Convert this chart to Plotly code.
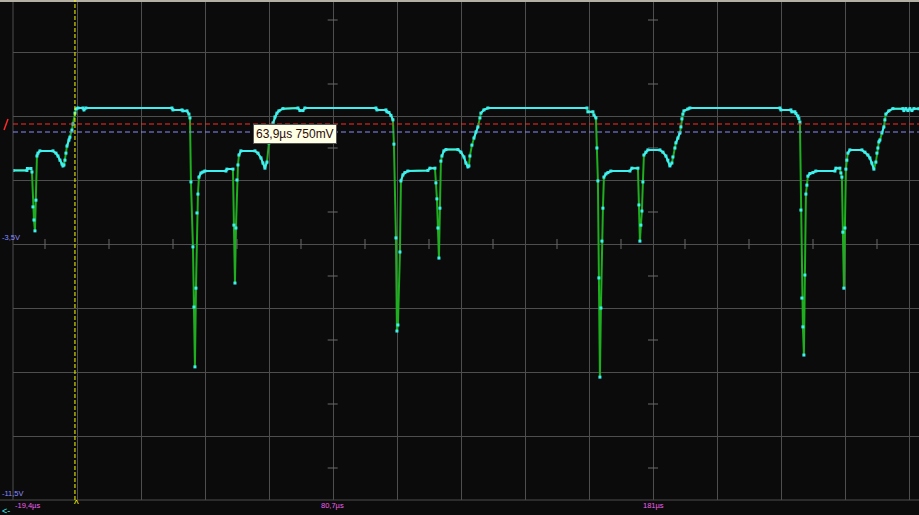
import plotly.graph_objects as go

# captured trace: time in µs, level in V
t_us = [
    -19.4, -15.03, -14.9, -13.78, -13.46, -13.15, -12.84, -12.52, -12.21, -11.90,
    -11.58, -10.96, -6.89, -5.95, -5.32, -4.70, -4.07, -3.76, -3.44, -3.13,
    -2.82, -2.50, -1.88, -1.57, -0.94, -0.63, 0.0, 0.31, 0.94, 2.50,
    2.82, 3.44,
    30.37, 30.68, 33.50, 33.81, 35.07, 35.69, 36.01, 36.32, 36.95, 37.26,
    37.57, 37.89, 38.20, 38.51, 38.82, 39.45, 40.08, 40.70, 47.28, 47.59,
    49.47, 49.78, 50.10, 50.41, 50.72, 51.04, 51.35, 51.97, 56.36, 57.30,
    58.24, 58.86, 59.49, 60.12, 60.74, 61.37, 61.99, 62.62, 63.25, 63.87,
    65.12, 69.82, 70.45, 71.39, 72.01,
    94.24, 94.56, 97.37, 97.69, 98.31, 98.94, 99.57, 99.88, 100.51, 100.82,
    101.13, 101.76, 102.07, 102.70, 103.32, 104.26, 110.52, 111.15, 112.72, 113.03,
    113.34, 113.66, 113.97, 114.28, 114.59, 114.91, 115.53, 116.16, 119.92, 120.86,
    121.80, 122.42, 123.05, 123.36, 123.67, 124.30, 124.93, 125.55, 126.18, 126.81,
    127.12, 128.06, 129.31,
    160.31, 160.62, 162.19, 162.50, 163.13, 163.44, 163.75, 164.06, 164.38, 164.69,
    165.00, 165.32, 165.63, 166.26, 166.88, 167.82, 173.77, 174.40, 176.28, 176.59,
    176.90, 177.21, 177.53, 177.84, 178.15, 178.78, 179.41, 183.16, 184.10, 185.04,
    185.67, 186.29, 186.92, 187.23, 187.86, 188.17, 188.80, 189.43, 189.74, 190.05,
    190.36, 190.68, 191.93, 192.56,
    220.74, 221.05, 224.18, 224.49, 225.43, 225.75, 226.37, 226.68, 227.00, 227.31,
    227.62, 227.94, 228.25, 228.56, 228.88, 229.19, 229.50, 230.13, 231.07, 232.01,
    237.96, 238.27, 239.52, 239.83, 240.15, 240.46, 240.77, 241.09, 241.40, 241.71,
    242.03, 242.65, 246.41, 247.35, 248.29, 248.91, 249.54, 250.17, 250.79, 251.11,
    251.42, 251.73, 252.05, 252.67, 253.30, 253.61, 253.92, 254.86, 256.12, 259.25,
    259.56, 260.19, 260.81, 261.44, 262.07, 262.69, 264.26,
]
v_volt = [
    -1.20, -1.20, -1.14, -1.14, -1.25, -2.34, -2.75, -3.09, -2.13, -0.75,
    -0.66, -0.59, -0.59, -0.66, -0.75, -0.88, -1.00, -1.06, -1.03, -0.88,
    -0.66, -0.44, -0.25, -0.16, 0.06, 0.25, 0.59, 0.72, 0.75, 0.75,
    0.69, 0.75,
    0.75, 0.69, 0.69, 0.66, 0.66, 0.56, 0.44, -1.56, -3.59, -5.47,
    -7.34, -4.88, -2.53, -1.94, -1.41, -1.28, -1.25, -1.22, -1.22, -1.16,
    -1.16, -2.91, -4.72, -3.00, -1.50, -1.03, -0.72, -0.59, -0.59, -0.66,
    -0.81, -0.97, -1.13, -0.94, -0.34, 0.00, 0.28, 0.47, 0.59, 0.66,
    0.73, 0.75, 0.67, 0.67, 0.75,
    0.75, 0.69, 0.69, 0.63, 0.61, 0.52, 0.38, -0.38, -3.31, -6.22,
    -6.03, -3.75, -1.53, -1.34, -1.27, -1.22, -1.20, -1.13, -1.13, -1.59,
    -2.09, -3.00, -3.94, -2.38, -0.91, -0.75, -0.59, -0.55, -0.55, -0.63,
    -0.78, -0.97, -1.09, -1.06, -0.75, -0.41, -0.19, 0.00, 0.16, 0.44,
    0.59, 0.69, 0.75,
    0.75, 0.63, 0.63, 0.53, 0.44, -0.50, -1.53, -4.56, -7.66, -5.50,
    -3.41, -2.38, -1.41, -1.31, -1.27, -1.22, -1.22, -1.13, -1.13, -2.28,
    -3.41, -2.91, -2.47, -1.56, -0.72, -0.63, -0.56, -0.56, -0.63, -0.75,
    -0.88, -1.06, -0.97, -0.78, -0.50, -0.34, -0.19, -0.03, 0.16, 0.41,
    0.56, 0.66, 0.72, 0.75,
    0.75, 0.69, 0.69, 0.63, 0.63, 0.58, 0.50, 0.42, 0.31, -2.44,
    -5.19, -6.09, -6.97, -4.47, -1.94, -1.66, -1.38, -1.30, -1.27, -1.22,
    -1.22, -1.13, -1.13, -1.28, -1.41, -3.13, -4.88, -3.00, -1.16, -0.88,
    -0.66, -0.56, -0.56, -0.63, -0.72, -0.81, -0.97, -1.16, -0.94, -0.66,
    -0.50, -0.31, -0.25, -0.03, 0.16, 0.38, 0.56, 0.66, 0.73, 0.73,
    0.67, 0.73, 0.67, 0.73, 0.67, 0.73, 0.73,
]

trig_level = 0.25      # red dashed
ref_level = 0.0        # blue dashed
trig_time = 0.0        # yellow cursor
cursor_text = "63,9µs 750mV"

x_labels = ["-19,4µs", "80,7µs", "181µs"]
x_label_pos = [-19.4, 80.7, 181.0]
y_labels = ["-3,5V", "-11,5V"]
y_label_pos = [-3.5, -11.5]

# screen geometry: 64 px per division
US_PER_DIV = 20.04
V_PER_DIV = 2.0
PLOT_W, PLOT_H = 906, 500
X0 = -19.4
X1 = X0 + US_PER_DIV * PLOT_W / 64
Y0 = -11.5
Y1 = Y0 + V_PER_DIV * PLOT_H / 64
US_PX = US_PER_DIV / 64
V_PX = V_PER_DIV / 64

GREEN = "#1fae1f"
CYAN = "#3ff0f0"
GRID = "#4e4e4e"
BG = "#0b0b0b"

# cyan overlay on the slow parts of the trace
cx, cy = [], []
for i in range(len(t_us) - 1):
    dt = t_us[i + 1] - t_us[i]
    slope = abs((v_volt[i + 1] - v_volt[i]) / dt)
    if slope <= 0.31:
        if not cx or cx[-1] != t_us[i]:
            cx += [None, t_us[i]]
            cy += [None, v_volt[i]]
        cx.append(t_us[i + 1])
        cy.append(v_volt[i + 1])

fig = go.Figure()
fig.add_trace(go.Scatter(x=t_us, y=v_volt, mode="lines",
                         line=dict(color=GREEN, width=2), hoverinfo="skip"))
fig.add_trace(go.Scatter(x=cx, y=cy, mode="lines", connectgaps=False,
                         line=dict(color=CYAN, width=2), hoverinfo="skip"))
fig.add_trace(go.Scatter(x=t_us, y=v_volt, mode="markers",
                         marker=dict(color=CYAN, size=3, symbol="square"),
                         hoverinfo="skip"))

def px_paper(px):
    return (px - 13) / PLOT_W

shapes = []
# frame lines
shapes.append(dict(type="line", xref="paper", yref="paper", x0=0, x1=0, y0=0, y1=1,
                   line=dict(color=GRID, width=1)))
shapes.append(dict(type="line", xref="paper", yref="paper", x0=px_paper(0), x1=1,
                   y0=0, y1=0, line=dict(color=GRID, width=1)))
shapes.append(dict(type="rect", xref="paper", yref="paper", x0=px_paper(0), x1=1,
                   y0=1 - 2 / PLOT_H, y1=1, line=dict(width=0), fillcolor="#b4b0a4",
                   layer="above"))
# half-division ticks
for k in range(14):
    t = X0 + (k + 0.5) * US_PER_DIV
    shapes.append(dict(type="line", x0=t, x1=t, y0=-3.5 - 5 * V_PX, y1=-3.5 + 5 * V_PX,
                       line=dict(color="#6a6a6a", width=1)))
for tx in [x_label_pos[1], x_label_pos[2]]:
    for k in range(8):
        v = Y0 + (k + 0.5) * V_PER_DIV
        shapes.append(dict(type="line", x0=tx - 5 * US_PX, x1=tx + 5 * US_PX, y0=v, y1=v,
                           line=dict(color="#6a6a6a", width=1)))
# level and cursor lines
shapes.append(dict(type="line", xref="paper", x0=0, x1=1, y0=trig_level, y1=trig_level,
                   line=dict(color="#ff2a2a", width=1, dash="5px,3px")))
shapes.append(dict(type="line", xref="paper", x0=0, x1=1, y0=ref_level, y1=ref_level,
                   line=dict(color="#8a8aff", width=1, dash="5px,3px")))
shapes.append(dict(type="line", yref="paper", x0=trig_time, x1=trig_time, y0=0, y1=1,
                   line=dict(color="#ffff00", width=1, dash="4px,2px")))
shapes.append(dict(type="line", xref="paper", x0=px_paper(4), x1=px_paper(8),
                   y0=trig_level - 6 * V_PX, y1=trig_level + 5 * V_PX,
                   line=dict(color="#ff2a2a", width=1.5)))

small = dict(family="Liberation Sans", size=7.5)
annotations = [
    dict(x=68.9, y=-0.05, xref="x", yref="y", text=cursor_text, showarrow=False,
         xanchor="center", yanchor="middle", bgcolor="#ffffe6", bordercolor="#555555",
         borderwidth=1, borderpad=2,
         font=dict(family="Liberation Sans", size=12, color="#2b0a0a")),
    dict(x=px_paper(0), y=-0.022, xref="paper", yref="paper", text="<-", showarrow=False,
         xanchor="left", yanchor="middle", font=dict(family="Liberation Sans", size=9, color=CYAN)),
    dict(x=trig_time + 0.6, y=-0.008, xref="x", yref="paper", text="^", showarrow=False,
         xanchor="center", yanchor="middle", font=dict(family="Liberation Sans", size=10, color="#ffff00")),
]
for lab, pos in zip(x_labels, x_label_pos):
    anchor = "left" if pos == X0 else "center"
    annotations.append(dict(x=pos, y=-0.01, xref="x", yref="paper", text=lab,
                            showarrow=False, xanchor=anchor, yanchor="middle",
                            font=dict(color="#f060f0", **small)))
for lab, pos in zip(y_labels, y_label_pos):
    annotations.append(dict(x=px_paper(0), y=pos, xref="paper", yref="y", text=lab,
                            showarrow=False, xanchor="left", yanchor="bottom",
                            font=dict(color="#8c8cff", **small)))

fig.update_layout(
    width=919, height=515,
    margin=dict(l=13, r=0, t=0, b=15),
    paper_bgcolor=BG, plot_bgcolor=BG,
    showlegend=False,
    shapes=shapes, annotations=annotations,
    xaxis=dict(range=[X0, X1], tick0=X0, dtick=US_PER_DIV, showgrid=True,
               gridcolor=GRID, gridwidth=1, showticklabels=False, zeroline=False,
               showline=False, ticks=""),
    yaxis=dict(range=[Y0, Y1], tick0=Y0, dtick=V_PER_DIV, showgrid=True,
               gridcolor=GRID, gridwidth=1, showticklabels=False, zeroline=False,
               showline=False, ticks=""),
)

fig.write_html("out.html", config={"displayModeBar": False},
               post_script="document.body.style.margin='0px';")
